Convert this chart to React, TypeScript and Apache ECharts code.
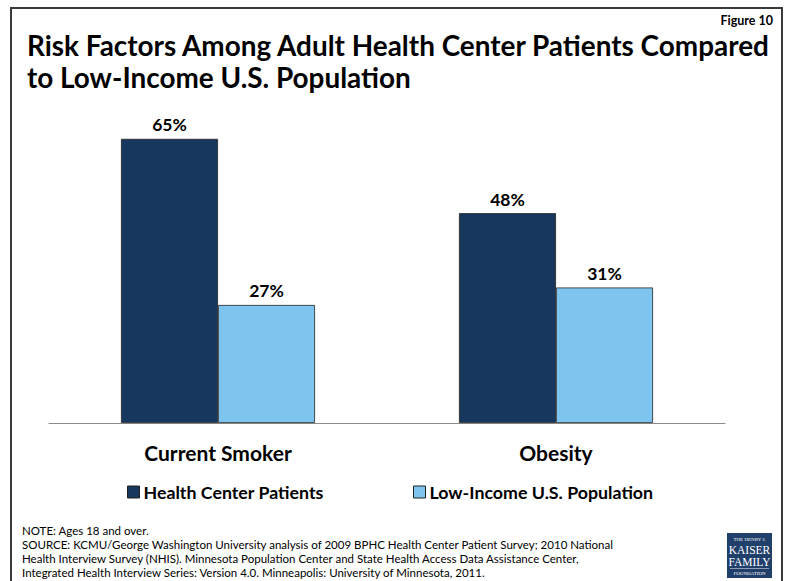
import React, { useEffect, useRef } from "react";
import * as echarts from "echarts";

const categories = ["Current Smoker", "Obesity"];
const seriesNames = ["Health Center Patients", "Low-Income U.S. Population"];
const healthCenter = [65, 48];
const lowIncome = [27, 31];
const colors = ["#17375E", "#7DC5EE"];
const titleLines = [
  "Risk Factors Among Adult Health Center Patients Compared",
  "to Low-Income U.S. Population",
];
const noteLines = [
  "NOTE: Ages 18 and over.",
  "SOURCE: KCMU/George Washington University analysis of 2009 BPHC Health Center Patient Survey; 2010 National",
  "Health Interview Survey (NHIS). Minnesota Population Center and State Health Access Data Assistance Center,",
  "Integrated Health Interview Series: Version 4.0. Minneapolis: University of Minnesota, 2011.",
];
const figureLabel = "Figure 10";
const logoLines = ["THE HENRY J.", "KAISER", "FAMILY", "FOUNDATION"];

const FONT = "Lato";

export default function App() {
  const ref = useRef<HTMLDivElement>(null);
  useEffect(() => {
    if (!ref.current) return;
    const chart = echarts.init(ref.current, undefined, { renderer: "svg" });
    const barSeries = [healthCenter, lowIncome].map((vals, i) => ({
      name: seriesNames[i],
      type: "bar",
      data: vals,
      barGap: "0%",
      barCategoryGap: "42.6%",
      itemStyle: { color: colors[i], borderColor: "#222", borderWidth: 0.8 },
      label: {
        show: true,
        position: "top",
        distance: 5,
        formatter: "{c}%",
        fontFamily: FONT,
        fontWeight: "bold",
        fontSize: 17.5,
        color: "#000",
      },
    }));
    chart.setOption({
      animation: false,
      backgroundColor: "#fff",
      textStyle: { fontFamily: FONT },
      grid: { left: 49, right: 63, top: 117, bottom: 158 },
      xAxis: {
        type: "category",
        data: categories,
        axisLine: { lineStyle: { color: "#8c8c8c", width: 1.2 } },
        axisTick: { show: false },
        axisLabel: {
          margin: 19,
          fontFamily: FONT,
          fontWeight: "bold",
          fontSize: 21,
          color: "#000",
        },
      },
      yAxis: { type: "value", min: 0, max: 70, show: false, splitLine: { show: false } },
      legend: [0, 1].map((i) => ({
        data: [seriesNames[i]],
        left: i === 0 ? 122 : 408,
        top: 478,
        icon: "rect",
        itemWidth: 12,
        itemHeight: 12,
        itemGap: 4,
        itemStyle: { borderColor: "#222", borderWidth: 1 },
        textStyle: { fontFamily: FONT, fontWeight: "bold", fontSize: 17.8, color: "#000", padding: [0, 0, 0, -1] },
        selectedMode: false,
      })),
      series: barSeries,
      graphic: [
        {
          type: "polyline",
          shape: { points: [[11, 581], [11, 8], [782, 8], [782, 581]] },
          style: { stroke: "#3a3a3a", lineWidth: 2, fill: "none" },
        },
        {
          type: "text",
          x: 773,
          y: 20,
          style: {
            text: figureLabel,
            fontFamily: FONT,
            fontWeight: "bold",
            fontSize: 12.5,
            fill: "#000",
            align: "right",
            verticalAlign: "middle",
          },
        },
        ...titleLines.map((t, i) => ({
          type: "text",
          x: 27,
          y: 45 + i * 32,
          style: {
            text: t,
            fontFamily: FONT,
            fontWeight: "bold",
            fontSize: 27.9,
            fill: "#000",
            verticalAlign: "middle",
          },
        })),
        ...noteLines.map((t, i) => ({
          type: "text",
          x: 22,
          y: 530 + i * 14,
          style: {
            text: t,
            fontFamily: FONT,
            fontSize: 11.5,
            fill: "#000",
            verticalAlign: "middle",
          },
        })),
        {
          type: "group",
          x: 727,
          y: 533,
          children: [
            { type: "rect", shape: { x: 0, y: 0, width: 45, height: 45 }, style: { fill: "#213F6B" } },
            ...logoLines.map((t, i) => ({
              type: "text",
              x: 22.5,
              y: [6, 17, 28.5, 40][i],
              style: {
                text: t,
                fontFamily: "Liberation Serif",
                fontSize: i === 0 || i === 3 ? 5 : 11.5,
                lineHeight: i === 0 || i === 3 ? 5 : 10.5,
                fill: "#fff",
                align: "center",
                verticalAlign: "middle",
              },
            })),
            { type: "line", shape: { x1: 3, y1: 35.5, x2: 42, y2: 35.5 }, style: { stroke: "#fff", lineWidth: 0.5 } },
          ],
        },
      ],
    });
    return () => chart.dispose();
  }, []);
  return (
    <div
      ref={ref}
      style={{ position: "fixed", left: 0, top: 0, width: 788, height: 581 }}
    />
  );
}
